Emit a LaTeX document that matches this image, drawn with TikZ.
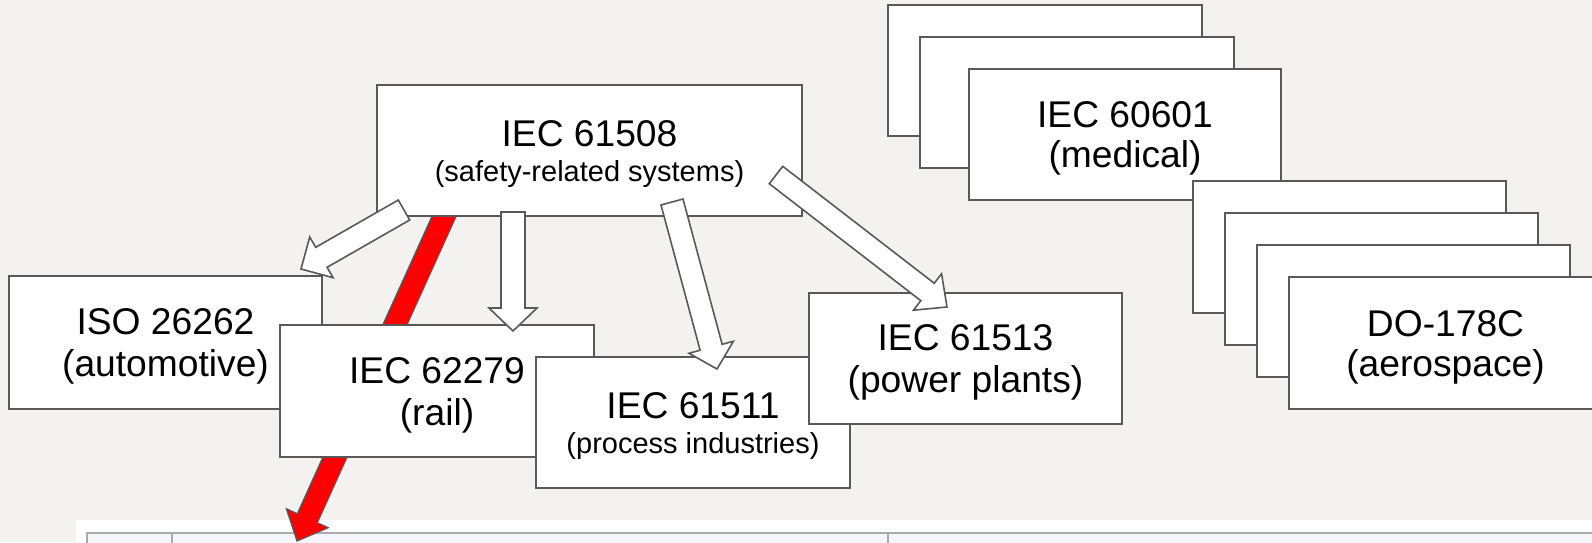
\documentclass[tikz,border=0pt]{standalone}
\usepackage{fontspec}
\setmainfont{Liberation Sans}
\usetikzlibrary{calc}
\definecolor{bg}{HTML}{F3F2F0}
\definecolor{edge}{HTML}{595959}
\definecolor{tblline}{HTML}{A9ABAE}
\definecolor{tblfill}{HTML}{F4F6F9}
\definecolor{redfill}{HTML}{FF0000}
\tikzset{
  stdbox/.style 2 args={draw=edge, fill=white, line width=1pt, rectangle, inner sep=0pt, outer sep=0pt,
    minimum width={#1*0.5pt}, minimum height={#2*0.5pt}, align=center, font=\fontsize{18.6}{21}\selectfont},
  barrow/.style={draw=edge, fill=white, line width=0.8pt, line join=miter},
  redarrow/.style={draw=edge, fill=redfill, line width=0.6pt, line join=miter},
  tblrule/.style={draw=tblline, line width=1pt},
}
\newcommand{\smalltxt}{\fontsize{14.5}{17.5}\selectfont}
\newcommand{\tstrut}{\rule{0pt}{17pt}}
% #1 style, #2 tail, #3 tip, #4 shaft half width, #5 head half width, #6 head length
\newcommand{\blockarrow}[6]{%
  \coordinate (ba) at ($(#3)!#6!(#2)$);
  \draw[#1] ($(#2)!#4!90:(#3)$) -- ($(ba)!#4!90:(#3)$) -- ($(ba)!#5!90:(#3)$) -- (#3)
    -- ($(ba)!#5!-90:(#3)$) -- ($(ba)!#4!-90:(#3)$) -- ($(#2)!#4!-90:(#3)$) -- cycle;
}
\begin{document}
\begin{tikzpicture}[x=0.5pt,y=-0.5pt]
\useasboundingbox (0,0) rectangle (1592,542);
\clip (0,0) rectangle (1592,542);
\fill[bg] (0,0) rectangle (1592,542);
% table top
\fill[white] (76,520) rectangle (1600,550);
\fill[tblfill] (87,533) rectangle (1600,550);
\draw[tblrule] (86,533) -- (1600,533);
\draw[tblrule, line width=0.6pt] (87,533) -- (87,550) (172,533) -- (172,550) (888,533) -- (888,550);
% red arrow (behind boxes)
\coordinate (rt) at (446,212);
\coordinate (rh) at (297,541);
\blockarrow{redarrow}{rt}{rh}{5.5pt}{11.5pt}{12.5pt}
% boxes
\node[stdbox={425}{131}] (n61508) at (589.5,150.5) {\tstrut IEC 61508\\[-3.5pt]\smalltxt (safety-related systems)};
\node[stdbox={313}{133}] (iso) at (165.5,342.5) {\tstrut ISO 26262\\(automotive)};
\node[stdbox={314}{132}] (n62279) at (437,391) {\tstrut IEC 62279\\(rail)};
\node[stdbox={314}{131}] (n61511) at (693,422.5) {\tstrut IEC 61511\\[-3.5pt]\smalltxt (process industries)};
\node[stdbox={313}{131}] (n61513) at (965.5,358.5) {\tstrut IEC 61513\\(power plants)};
\node[stdbox={314}{131}] (med1) at (1045,70.5) {};
\node[stdbox={314}{131}] (med2) at (1077,102.5) {};
\node[stdbox={312}{131}] (med3) at (1125,134.5) {\tstrut IEC 60601\\[-1pt](medical)};
\node[stdbox={313}{132}] (aero1) at (1349.5,247) {};
\node[stdbox={313}{132}] (aero2) at (1381.5,279) {};
\node[stdbox={313}{132}] (aero3) at (1413.5,311) {};
\node[stdbox={313}{132}] (aero4) at (1445.5,343) {\tstrut DO-178C\\[-1pt](aerospace)};
% block arrows
\coordinate (a1t) at (404,210);
\coordinate (a1h) at (301,269);
\coordinate (a2t) at (513,212);
\coordinate (a2h) at (513,331);
\coordinate (a3t) at (672,202);
\coordinate (a3h) at (717,369);
\coordinate (a4t) at (776,175);
\coordinate (a4h) at (947,307);
\blockarrow{barrow}{a1t}{a1h}{5.75pt}{11.75pt}{11.75pt}
\blockarrow{barrow}{a2t}{a2h}{6pt}{12pt}{11.5pt}
\blockarrow{barrow}{a3t}{a3h}{5.7pt}{11.5pt}{11.25pt}
\blockarrow{barrow}{a4t}{a4h}{5.5pt}{11.5pt}{12.3pt}
\end{tikzpicture}
\end{document}
